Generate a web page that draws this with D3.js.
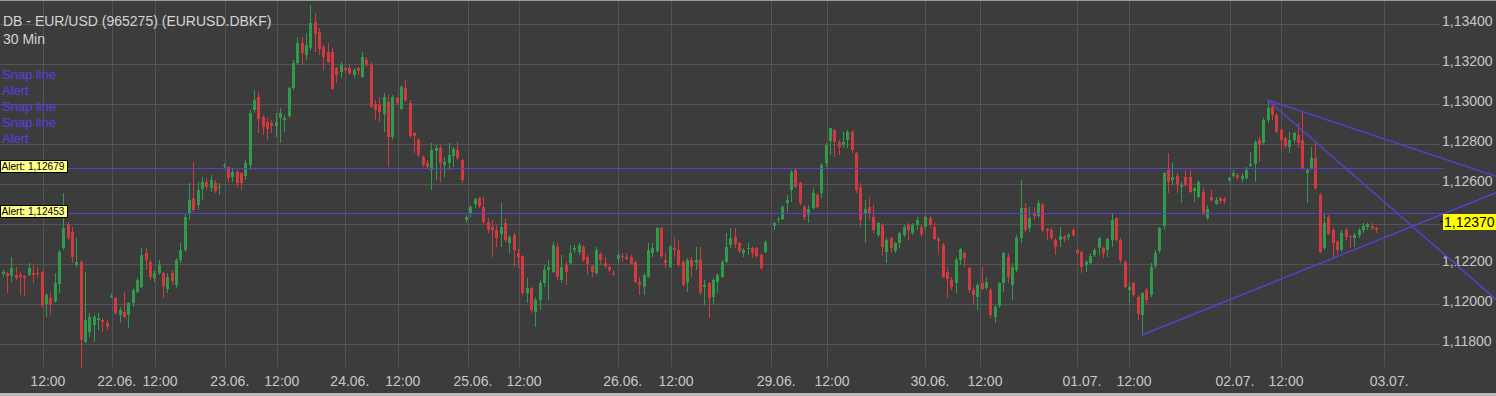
<!DOCTYPE html>
<html>
<head>
<meta charset="utf-8">
<script src="https://cdn.jsdelivr.net/npm/d3@7/dist/d3.min.js"></script>
<style>
  html, body { margin: 0; padding: 0; background: #3c3c3c; overflow: hidden; }
  svg { display: block; font-family: Arial, "Liberation Sans", sans-serif; }
</style>
</head>
<body>
<div id="chart"></div>
<script>
// 30 min candles, [open, high, low, close]; null = no bar in that slot
const ohlc = [
  [1.12150,1.12170,1.12137,1.12162],[1.12153,1.12162,1.12053,1.12137],[1.12137,1.12237,1.12112,1.12178],
  [1.12145,1.12187,1.12120,1.12128],[1.12145,1.12162,1.12045,1.12137],[1.12140,1.12145,1.12040,1.12130],
  [1.12145,1.12203,1.12140,1.12178],[1.12153,1.12195,1.12107,1.12145],[1.12157,1.12187,1.12128,1.12150],
  [1.12162,1.12167,1.11987,1.11995],[1.12000,1.12053,1.11937,1.12045],[1.12028,1.12057,1.11945,1.12000],
  [1.12012,1.12153,1.12003,1.12103],[1.12103,1.12270,1.12053,1.12262],[1.12278,1.12553,1.12270,1.12378],
  [1.12400,1.12412,1.12320,1.12328],[1.12362,1.12387,1.12203,1.12237],[1.12195,1.12328,1.12187,1.12212],
  [1.12212,1.12220,1.11678,1.11820],[1.11812,1.12162,1.11803,1.11920],[1.11862,1.11953,1.11837,1.11937],
  [1.11895,1.11945,1.11812,1.11937],[1.11920,1.11953,1.11870,1.11928],[1.11920,1.11928,1.11862,1.11912],
  [1.11907,1.11920,1.11870,1.11887],[1.12033,1.12053,1.12028,1.12040],[1.12028,1.12037,1.11945,1.11953],
  [1.11945,1.11987,1.11903,1.11970],[1.11962,1.12062,1.11928,1.11937],[1.11945,1.12012,1.11878,1.12003],
  [1.12003,1.12078,1.11987,1.12070],[1.12062,1.12128,1.12053,1.12120],[1.12087,1.12278,1.12078,1.12245],
  [1.12253,1.12278,1.12170,1.12220],[1.12212,1.12220,1.12120,1.12137],[1.12128,1.12170,1.12112,1.12153],
  [1.12153,1.12220,1.12145,1.12195],[1.12153,1.12162,1.12028,1.12087],[1.12078,1.12153,1.12053,1.12137],
  [1.12153,1.12170,1.12095,1.12112],[1.12095,1.12228,1.12078,1.12220],[1.12220,1.12303,1.12203,1.12270],
  [1.12270,1.12453,1.12262,1.12437],[1.12453,1.12603,1.12420,1.12520],[1.12528,1.12712,1.12462,1.12470],
  [1.12495,1.12612,1.12470,1.12570],[1.12578,1.12637,1.12520,1.12612],[1.12612,1.12628,1.12570,1.12587],
  [1.12578,1.12645,1.12562,1.12620],[1.12603,1.12620,1.12553,1.12562],[1.12580,1.12603,1.12545,1.12587],
  [1.12688,1.12703,1.12678,1.12695],[1.12683,1.12687,1.12612,1.12628],[1.12637,1.12678,1.12612,1.12662],
  [1.12662,1.12670,1.12587,1.12607],[1.12653,1.12662,1.12570,1.12603],[1.12637,1.12720,1.12620,1.12703],
  [1.12695,1.12970,1.12670,1.12953],[1.12970,1.13070,1.12953,1.13020],[1.13037,1.13062,1.12853,1.12928],
  [1.12937,1.12945,1.12845,1.12887],[1.12912,1.12928,1.12820,1.12878],[1.12903,1.12920,1.12853,1.12887],
  [1.12890,1.12953,1.12837,1.12912],[1.12928,1.12978,1.12803,1.12953],[1.12917,1.12945,1.12862,1.12928],
  [1.12937,1.13087,1.12928,1.13078],[1.13078,1.13220,1.13070,1.13203],[1.13203,1.13337,1.13195,1.13303],
  [1.13303,1.13337,1.13195,1.13253],[1.13245,1.13353,1.13220,1.13295],[1.13278,1.13495,1.13270,1.13403],
  [1.13412,1.13453,1.13262,1.13353],[1.13362,1.13378,1.13245,1.13278],[1.13287,1.13295,1.13170,1.13237],
  [1.13262,1.13303,1.13203,1.13212],[1.13262,1.13278,1.13070,1.13078],[1.13178,1.13187,1.13103,1.13145],
  [1.13162,1.13212,1.13128,1.13195],[1.13178,1.13187,1.13153,1.13170],[1.13182,1.13195,1.13145,1.13157],
  [1.13145,1.13178,1.13128,1.13170],[1.13178,1.13187,1.13145,1.13162],[1.13137,1.13262,1.13128,1.13237],
  [1.13220,1.13237,1.13187,1.13195],[1.13195,1.13212,1.12978,1.12987],[1.13000,1.13020,1.12920,1.12970],
  [1.12995,1.13037,1.12912,1.12962],[1.12953,1.13053,1.12862,1.13037],[1.13012,1.13045,1.12687,1.12837],
  [1.12837,1.13045,1.12820,1.13037],[1.13028,1.13037,1.12995,1.13003],[1.12978,1.13095,1.12970,1.13087],
  [1.13078,1.13120,1.13012,1.13020],[1.13003,1.13020,1.12828,1.12837],[1.12853,1.12862,1.12753,1.12837],
  [1.12820,1.12828,1.12737,1.12745],[1.12737,1.12745,1.12687,1.12695],[1.12707,1.12720,1.12678,1.12687],
  [1.12670,1.12803,1.12570,1.12770],[1.12762,1.12795,1.12620,1.12778],[1.12778,1.12795,1.12612,1.12703],
  [1.12695,1.12737,1.12637,1.12712],[1.12703,1.12803,1.12670,1.12745],[1.12737,1.12787,1.12687,1.12773],
  [1.12770,1.12812,1.12720,1.12728],[1.12720,1.12723,1.12607,1.12620],[1.12420,1.12445,1.12403,1.12437],
  [1.12453,1.12495,1.12437,1.12487],[1.12500,1.12528,1.12478,1.12523],[1.12528,1.12537,1.12478,1.12487],
  [1.12487,1.12537,1.12395,1.12412],[1.12412,1.12428,1.12353,1.12370],[1.12387,1.12420,1.12237,1.12370],
  [1.12370,1.12395,1.12287,1.12328],[1.12353,1.12503,1.12287,1.12387],[1.12403,1.12428,1.12312,1.12320],
  [1.12303,1.12345,1.12253,1.12333],[1.12345,1.12353,1.12187,1.12270],[1.12257,1.12273,1.12178,1.12237],
  [1.12240,1.12245,1.12045,1.12053],[1.12053,1.12128,1.12003,1.12078],[1.12078,1.12087,1.11953,1.11970],
  [1.11962,1.12037,1.11887,1.12020],[1.12020,1.12120,1.11970,1.12103],[1.12103,1.12195,1.12087,1.12170],
  [1.12170,1.12220,1.12020,1.12187],[1.12162,1.12312,1.12153,1.12295],[1.12287,1.12303,1.12120,1.12137],
  [1.12120,1.12245,1.12103,1.12187],[1.12195,1.12212,1.12095,1.12162],[1.12203,1.12295,1.12195,1.12253],
  [1.12270,1.12295,1.12253,1.12278],[1.12262,1.12303,1.12245,1.12295],[1.12287,1.12295,1.12212,1.12220],
  [1.12237,1.12245,1.12145,1.12203],[1.12190,1.12195,1.12137,1.12162],[1.12153,1.12287,1.12145,1.12270],
  [1.12250,1.12262,1.12195,1.12220],[1.12203,1.12237,1.12178,1.12187],[1.12187,1.12195,1.12162,1.12170],
  [1.12157,1.12170,1.12140,1.12150],[1.12223,1.12262,1.12203,1.12245],[1.12240,1.12253,1.12212,1.12233],
  [1.12237,1.12253,1.12220,1.12228],[1.12237,1.12245,1.12195,1.12203],[1.12212,1.12220,1.12103,1.12112],
  [1.12112,1.12137,1.12045,1.12095],[1.12087,1.12153,1.12045,1.12145],[1.12137,1.12303,1.12128,1.12270],
  [1.12253,1.12303,1.12237,1.12278],[1.12262,1.12387,1.12253,1.12378],[1.12378,1.12387,1.12228,1.12237],
  [1.12220,1.12253,1.12178,1.12203],[1.12187,1.12295,1.12178,1.12287],[1.12278,1.12337,1.12237,1.12270],
  [1.12270,1.12320,1.12187,1.12195],[1.12212,1.12220,1.12087,1.12095],[1.12112,1.12228,1.12062,1.12220],
  [1.12220,1.12237,1.12137,1.12187],[1.12203,1.12287,1.12170,1.12220],[1.12220,1.12287,1.12045,1.12053],
  [1.12083,1.12120,1.11995,1.12095],[1.12103,1.12112,1.11928,1.12028],[1.12037,1.12128,1.11995,1.12120],
  [1.12112,1.12153,1.12053,1.12145],[1.12137,1.12220,1.12128,1.12212],[1.12212,1.12353,1.12203,1.12287],
  [1.12295,1.12378,1.12278,1.12328],[1.12337,1.12378,1.12278,1.12303],[1.12303,1.12312,1.12253,1.12262],
  [1.12253,1.12278,1.12237,1.12270],[1.12273,1.12303,1.12245,1.12278],[1.12278,1.12287,1.12228,1.12253],
  [1.12278,1.12287,1.12228,1.12237],[1.12245,1.12253,1.12170,1.12178],[1.12262,1.12320,1.12253,1.12312],
  null,
  [1.12387,1.12412,1.12370,1.12403],[1.12417,1.12437,1.12403,1.12423],[1.12428,1.12495,1.12420,1.12487],
  [1.12503,1.12545,1.12462,1.12520],[1.12570,1.12670,1.12512,1.12662],[1.12670,1.12678,1.12578,1.12587],
  [1.12603,1.12612,1.12495,1.12503],[1.12487,1.12495,1.12420,1.12437],[1.12445,1.12495,1.12403,1.12473],
  [1.12478,1.12578,1.12470,1.12553],[1.12545,1.12557,1.12478,1.12487],[1.12553,1.12703,1.12528,1.12695],
  [1.12703,1.12803,1.12687,1.12795],[1.12812,1.12878,1.12745,1.12878],[1.12870,1.12873,1.12737,1.12812],
  [1.12812,1.12820,1.12745,1.12787],[1.12795,1.12862,1.12778,1.12812],[1.12820,1.12870,1.12778,1.12862],
  [1.12862,1.12870,1.12753,1.12770],[1.12757,1.12762,1.12553,1.12570],[1.12587,1.12603,1.12387,1.12420],
  [1.12453,1.12520,1.12303,1.12473],[1.12487,1.12537,1.12420,1.12453],[1.12437,1.12495,1.12353,1.12370],
  [1.12345,1.12412,1.12337,1.12403],[1.12395,1.12403,1.12245,1.12287],[1.12262,1.12328,1.12203,1.12320],
  [1.12328,1.12333,1.12253,1.12278],[1.12262,1.12312,1.12253,1.12303],[1.12303,1.12362,1.12278,1.12353],
  [1.12345,1.12395,1.12337,1.12387],[1.12395,1.12403,1.12320,1.12370],[1.12353,1.12403,1.12345,1.12395],
  [1.12395,1.12437,1.12370,1.12420],[1.12387,1.12395,1.12337,1.12353],[1.12387,1.12445,1.12370,1.12437],
  [1.12428,1.12440,1.12378,1.12395],[1.12387,1.12403,1.12320,1.12328],[1.12323,1.12333,1.12245,1.12312],
  [1.12295,1.12303,1.12128,1.12137],[1.12162,1.12187,1.12028,1.12128],[1.12120,1.12137,1.12070,1.12087],
  [1.12103,1.12237,1.12053,1.12220],[1.12220,1.12278,1.12195,1.12273],[1.12253,1.12262,1.12187,1.12228],
  [1.12178,1.12187,1.12053,1.12070],[1.12070,1.12087,1.11995,1.12045],[1.12037,1.12103,1.11970,1.12095],
  [1.12107,1.12187,1.12070,1.12078],[1.12083,1.12137,1.12070,1.12112],[1.12070,1.12078,1.11928,1.11945],
  [1.11937,1.11995,1.11903,1.11987],[1.11987,1.12112,1.11978,1.12103],[1.12103,1.12262,1.12062,1.12253],
  [1.12237,1.12253,1.12103,1.12137],[1.12095,1.12203,1.12020,1.12187],[1.12170,1.12345,1.12162,1.12328],
  [1.12328,1.12620,1.12303,1.12478],[1.12478,1.12503,1.12362,1.12370],[1.12378,1.12487,1.12362,1.12428],
  [1.12453,1.12487,1.12420,1.12437],[1.12437,1.12520,1.12428,1.12503],[1.12495,1.12503,1.12362,1.12370],
  [1.12373,1.12378,1.12320,1.12362],[1.12370,1.12378,1.12320,1.12328],[1.12320,1.12328,1.12245,1.12287],
  [1.12320,1.12387,1.12287,1.12340],[1.12333,1.12345,1.12312,1.12323],[1.12333,1.12353,1.12320,1.12345],
  [1.12370,1.12378,1.12337,1.12345],[1.12270,1.12278,1.12245,1.12253],[1.12262,1.12267,1.12153,1.12187],
  [1.12195,1.12220,1.12162,1.12212],[1.12203,1.12253,1.12195,1.12240],[1.12245,1.12278,1.12237,1.12270],
  [1.12278,1.12337,1.12245,1.12328],[1.12278,1.12287,1.12228,1.12253],[1.12270,1.12328,1.12237,1.12323],
  [1.12320,1.12453,1.12287,1.12420],[1.12428,1.12437,1.12312,1.12320],[1.12320,1.12328,1.12203,1.12220],
  [1.12212,1.12220,1.12078,1.12087],[1.12070,1.12112,1.12003,1.12087],[1.12103,1.12112,1.12037,1.12045],
  [1.12037,1.12045,1.11920,1.11953],[1.11945,1.12062,1.11845,1.12053],[1.12070,1.12078,1.11995,1.12020],
  [1.12045,1.12203,1.12037,1.12187],[1.12187,1.12270,1.12178,1.12253],[1.12262,1.12387,1.12253,1.12378],
  [1.12387,1.12662,1.12370,1.12653],[1.12670,1.12753,1.12553,1.12612],[1.12620,1.12703,1.12595,1.12637],
  [1.12640,1.12653,1.12553,1.12595],[1.12587,1.12612,1.12503,1.12595],[1.12637,1.12670,1.12587,1.12595],
  [1.12637,1.12670,1.12553,1.12562],[1.12562,1.12587,1.12512,1.12578],[1.12537,1.12620,1.12528,1.12612],
  [1.12562,1.12578,1.12445,1.12453],[1.12428,1.12495,1.12420,1.12473],[1.12533,1.12570,1.12512,1.12520],
  [1.12500,1.12537,1.12495,1.12520],[1.12528,1.12537,1.12503,1.12512],[1.12523,1.12533,1.12500,1.12512],
  [1.12620,1.12637,1.12612,1.12628],[1.12640,1.12670,1.12628,1.12657],[1.12645,1.12657,1.12620,1.12628],
  [1.12623,1.12653,1.12612,1.12640],[1.12628,1.12687,1.12620,1.12670],[1.12692,1.12762,1.12687,1.12700],
  [1.12703,1.12820,1.12612,1.12812],[1.12820,1.12837,1.12712,1.12795],[1.12803,1.12928,1.12795,1.12920],
  [1.12920,1.13020,1.12903,1.12978],[1.12987,1.13003,1.12920,1.12945],[1.12945,1.12953,1.12853,1.12862],
  [1.12870,1.12878,1.12770,1.12820],[1.12828,1.12837,1.12778,1.12787],[1.12787,1.12862,1.12753,1.12820],
  [1.12820,1.12862,1.12803,1.12853],[1.12845,1.12903,1.12778,1.12803],[1.12820,1.12962,1.12670,1.12678],
  [1.12653,1.12678,1.12503,1.12670],[1.12678,1.12787,1.12670,1.12728],[1.12728,1.12812,1.12570,1.12578],
  [1.12545,1.12553,1.12253,1.12262],[1.12278,1.12453,1.12270,1.12403],[1.12437,1.12445,1.12345,1.12353],
  [1.12370,1.12378,1.12228,1.12303],[1.12312,1.12320,1.12245,1.12270],[1.12270,1.12370,1.12262,1.12353],
  [1.12370,1.12378,1.12320,1.12337],[1.12340,1.12345,1.12278,1.12333],[1.12328,1.12353,1.12287,1.12345],
  [1.12345,1.12378,1.12328,1.12370],[1.12370,1.12403,1.12353,1.12390],[1.12383,1.12407,1.12370,1.12400],
  [1.12390,1.12403,1.12370,1.12378],[1.12378,1.12387,1.12357,1.12370]
];

// time axis: position in bar slots, and the label shown there
const timeTicks = [9.3, 25.2, 35.2, 51.3, 63.3, 79.0, 91.2, 107.4, 119.2, 142.0,
                   154.3, 177.4, 190.3, 212.9, 225.6, 248.0, 260.0, 283.3, 295.1, 318.9];
const timeLabels = ["12:00", "22.06.", "12:00", "23.06.", "12:00", "24.06.", "12:00", "25.06.", "12:00", "26.06.",
                    "12:00", "29.06.", "12:00", "30.06.", "12:00", "01.07.", "12:00", "02.07.", "12:00", "03.07."];

const priceTicks = [1.118, 1.120, 1.122, 1.124, 1.126, 1.128, 1.130, 1.132, 1.134];
const alertLevels = [1.12679, 1.12453];
const lastPrice = 1.12370;
const toolNames = ["Snap line", "Alert", "Snap line", "Snap line", "Alert"];
// trend lines: [bar, field, bar, field], drawn from the first anchor to the right edge
const trendAnchors = [[263, "low", 307, "low"], [292, "high", 300, "high"], [292, "high", 303, "high"]];

const W = 1496, H = 396;
const plotW = 1440;
const up = "#2f9c4c", down = "#d23a3f", tool = "#5a3fd6", txt = "#c8c8c8";

const svg = d3.select("#chart").append("svg").attr("width", W).attr("height", H);
svg.append("rect").attr("width", W).attr("height", H).attr("fill", "#3c3c3c");

const x = d3.scaleLinear().domain([-0.6, 331.8]).range([0, plotW]);
const y = d3.scaleLinear().domain([1.118, 1.134]).range([344, 24]);
const crisp = v => Math.round(v) + 0.5;

const de = d3.formatLocale({ decimal: ",", thousands: ".", grouping: [3], currency: ["", " €"] });
const fmt = de.format(".5f");

// grid
svg.append("g").selectAll("line").data(priceTicks).join("line")
  .attr("x1", 0).attr("x2", plotW)
  .attr("y1", d => crisp(y(d))).attr("y2", d => crisp(y(d)))
  .attr("stroke", "#545454");
svg.append("g").selectAll("line").data(timeTicks).join("line")
  .attr("x1", d => crisp(x(d))).attr("x2", d => crisp(x(d)))
  .attr("y1", 0).attr("y2", 367)
  .attr("stroke", "#545454");

// axes
const yAxis = svg.append("g").attr("transform", `translate(${plotW},0)`)
  .call(d3.axisRight(y).tickValues(priceTicks).tickFormat(fmt).tickSize(0).tickPadding(2));
yAxis.select(".domain").remove();
yAxis.selectAll("text").attr("fill", txt).attr("font-size", 14).attr("font-family", null).attr("y", -2.5);

const xAxis = svg.append("g").attr("transform", "translate(0,376)")
  .call(d3.axisBottom(x).tickValues(timeTicks).tickFormat((d, i) => timeLabels[i]).tickSize(0).tickPadding(0));
xAxis.select(".domain").remove();
xAxis.selectAll("text").attr("fill", txt).attr("font-size", 14).attr("font-family", null).attr("dx", 4.5);

// candles
const bars = ohlc.map((d, i) => d && { i, o: d[0], h: d[1], l: d[2], c: d[3] }).filter(Boolean);
const candles = svg.append("g").selectAll("g").data(bars).join("g")
  .attr("fill", d => d.c >= d.o ? up : down)
  .attr("stroke", d => d.c >= d.o ? up : down);
candles.append("line")
  .attr("x1", d => crisp(x(d.i))).attr("x2", d => crisp(x(d.i)))
  .attr("y1", d => Math.round(y(d.h))).attr("y2", d => Math.round(y(d.l)));
candles.append("rect")
  .attr("stroke", "none")
  .attr("x", d => Math.round(x(d.i)) - 1)
  .attr("width", 3)
  .attr("y", d => Math.round(y(Math.max(d.o, d.c))))
  .attr("height", d => Math.max(1, Math.round(Math.abs(y(d.o) - y(d.c)))));

// alert lines
svg.append("g").selectAll("line").data(alertLevels).join("line")
  .attr("x1", 0).attr("x2", plotW + 3)
  .attr("y1", d => crisp(y(d))).attr("y2", d => crisp(y(d)))
  .attr("stroke", tool);

// trend lines
const trend = trendAnchors.map(([i1, f1, i2, f2]) => {
  const v = (i, f) => ohlc[i][f === "high" ? 1 : 2];
  const x1 = x(i1), y1 = y(v(i1, f1)), x2 = x(i2), y2 = y(v(i2, f2));
  return { x1, y1, x2: W, y2: y1 + (W - x1) * (y2 - y1) / (x2 - x1) };
});
svg.append("g").selectAll("line").data(trend).join("line")
  .attr("x1", d => d.x1).attr("y1", d => d.y1).attr("x2", d => d.x2).attr("y2", d => d.y2)
  .attr("stroke", tool).attr("stroke-width", 1.4);

// alert tags on the left
const tags = svg.append("g").selectAll("g").data(alertLevels).join("g")
  .attr("transform", d => `translate(0,${Math.round(y(d)) - 8})`);
tags.append("rect")
  .attr("x", 0.5).attr("y", 0.5).attr("width", 67).attr("height", 12)
  .attr("fill", "#ffff8c").attr("stroke", "#000");
tags.append("text")
  .attr("x", 1.5).attr("y", 10).attr("font-size", 10.5).attr("fill", "#000")
  .attr("textLength", 63).attr("lengthAdjust", "spacingAndGlyphs")
  .text(d => "Alert: " + fmt(d));

// last price tag
const lp = svg.append("g").attr("transform", `translate(${plotW},${Math.round(y(lastPrice)) - 16})`);
lp.append("line").attr("x1", 0).attr("x2", 3).attr("y1", 7.5).attr("y2", 7.5).attr("stroke", "#000");
lp.append("rect").attr("x", 3).attr("y", 0).attr("width", W - plotW - 3).attr("height", 16).attr("fill", "#ffff00");
lp.append("text").attr("x", 4).attr("y", 13).attr("font-size", 14).attr("fill", "#000").text(fmt(lastPrice));

// header
svg.append("text").attr("x", 3).attr("y", 26).attr("font-size", 14).attr("fill", "#d4d4d4")
  .text("DB - EUR/USD (965275) (EURUSD.DBKF)");
svg.append("text").attr("x", 3).attr("y", 44).attr("font-size", 14).attr("fill", "#d4d4d4")
  .text("30 Min");

// drawing tools list
svg.append("g").selectAll("text").data(toolNames).join("text")
  .attr("x", 2).attr("y", (d, i) => 79 + i * 16)
  .attr("font-size", 13).attr("fill", "#5b3ee6")
  .text(d => d);

// window frame: thin light edge on top, light strip at the bottom
svg.append("rect").attr("x", 0).attr("y", 0).attr("width", W).attr("height", 1).attr("fill", "#9a9a9a");
svg.append("rect").attr("x", 0).attr("y", H - 3).attr("width", W).attr("height", 3).attr("fill", "#b8b8b8");
</script>
</body>
</html>
